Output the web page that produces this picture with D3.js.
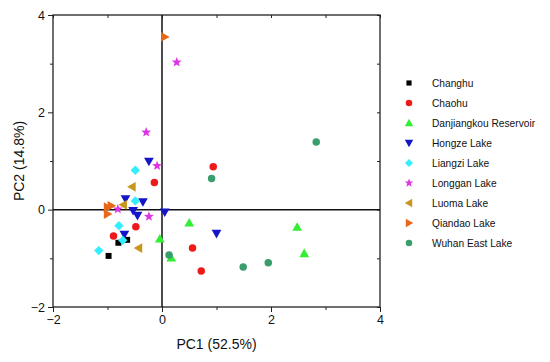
<!DOCTYPE html>
<html><head><meta charset="utf-8">
<script src="https://cdn.jsdelivr.net/npm/d3@7/dist/d3.min.js"></script>
<style>body{margin:0;background:#fff}svg{font-family:"Liberation Sans",Arial,sans-serif}</style>
</head><body><svg id="c" width="550" height="362"></svg>
<script>
const groups = ["Changhu","Chaohu","Danjiangkou Reservoir","Hongze Lake","Liangzi Lake","Longgan Lake","Luoma Lake","Qiandao Lake","Wuhan East Lake"];
const changhu = [[-0.64,-0.62],[-0.80,-0.68],[-0.98,-0.95]];
const chaohu = [[0.94,0.88],[-0.14,0.56],[-0.48,-0.35],[-0.89,-0.54],[0.56,-0.79],[0.72,-1.26]];
const danjiangkou = [[0.50,-0.27],[-0.04,-0.60],[0.17,-0.99],[2.48,-0.36],[2.61,-0.90]];
const hongze = [[-0.24,0.99],[-0.67,0.22],[-0.35,0.16],[-0.53,-0.02],[-0.45,-0.12],[0.05,-0.05],[1.00,-0.49],[-0.69,-0.51]];
const liangzi = [[-0.49,0.81],[-0.49,0.18],[-0.79,-0.33],[-0.72,-0.63],[-1.16,-0.84]];
const longgan = [[0.27,3.03],[-0.29,1.59],[-0.09,0.90],[-0.81,0.01],[-0.24,-0.14]];
const luoma = [[-0.55,0.47],[-0.71,0.10],[-0.43,-0.79]];
const qiandao = [[0.05,3.55],[-0.93,0.08],[-1.00,0.05],[-1.00,-0.09]];
const wuhan = [[0.91,0.64],[0.13,-0.93],[1.49,-1.18],[1.95,-1.09],[2.83,1.39]];
const seriesData = [changhu,chaohu,danjiangkou,hongze,liangzi,longgan,luoma,qiandao,wuhan];
const xTicks = [-2,0,2,4], yTicks = [-2,0,2,4];
const xMinor = [-1,1,3], yMinor = [-1,1,3];
const xLabel = "PC1 (52.5%)", yLabel = "PC2 (14.8%)";

const colors = ["#000000","#ee1a1a","#33ee33","#1414c8","#33eeff","#e033e6","#c8961e","#e8681a","#3a9e6c"];
const poly = pts => ({draw(ctx,size){const s=Math.sqrt(size);pts.forEach((p,i)=>i?ctx.lineTo(p[0]*s,p[1]*s):ctx.moveTo(p[0]*s,p[1]*s));ctx.closePath();}});
const tri = 0.62;
const shapes = [
  poly([[-0.45,-0.45],[0.45,-0.45],[0.45,0.45],[-0.45,0.45]]),
  {draw(ctx,size){const r=Math.sqrt(size)*0.5;ctx.moveTo(r,0);ctx.arc(0,0,r,0,2*Math.PI);}},
  poly([[0,-tri],[tri,tri*0.75],[-tri,tri*0.75]]),
  poly([[0,tri],[tri,-tri*0.75],[-tri,-tri*0.75]]),
  poly([[0,-0.6],[0.6,0],[0,0.6],[-0.6,0]]),
  {draw(ctx,size){const R=Math.sqrt(size)*0.62,r=R*0.42;for(let i=0;i<10;i++){const a=-Math.PI/2+i*Math.PI/5,rr=i%2?r:R;i?ctx.lineTo(rr*Math.cos(a),rr*Math.sin(a)):ctx.moveTo(rr*Math.cos(a),rr*Math.sin(a));}ctx.closePath();}},
  poly([[-tri,0],[tri*0.75,-tri],[tri*0.75,tri]]),
  poly([[tri,0],[-tri*0.75,-tri],[-tri*0.75,tri]]),
  {draw(ctx,size){const r=Math.sqrt(size)*0.5;ctx.moveTo(r,0);ctx.arc(0,0,r,0,2*Math.PI);}}
];
const sizes = [44,56,62,62,60,70,62,62,56];

const svg = d3.select("#c");
const L=53,R=380,T=15,B=307;
const x = d3.scaleLinear().domain([-2,4]).range([L,R]);
const y = d3.scaleLinear().domain([-2,4]).range([B,T]);

// frame
svg.append("rect").attr("x",L).attr("y",T).attr("width",R-L).attr("height",B-T).attr("fill","none").attr("stroke","#222").attr("stroke-width",1.3);
// zero lines
svg.append("line").attr("x1",x(0)).attr("x2",x(0)).attr("y1",T).attr("y2",B).attr("stroke","#111").attr("stroke-width",1.5);
svg.append("line").attr("x1",L).attr("x2",R).attr("y1",y(0)).attr("y2",y(0)).attr("stroke","#111").attr("stroke-width",1.5);

// axes
const gx = svg.append("g").attr("transform",`translate(0,${B})`).call(d3.axisBottom(x).tickValues(xTicks).tickSize(5).tickPadding(3).tickFormat(d3.format("")));
const gy = svg.append("g").attr("transform",`translate(${L},0)`).call(d3.axisLeft(y).tickValues(yTicks).tickSize(5).tickPadding(3).tickFormat(d3.format("")));
[gx,gy].forEach(g=>{g.select(".domain").remove();g.selectAll("text").attr("font-size",12.5).attr("fill","#111").attr("font-family","Liberation Sans, Arial, sans-serif");g.selectAll("line").attr("stroke","#222");});
const minorB = svg.append("g").attr("transform",`translate(0,${B})`).call(d3.axisBottom(x).tickValues(xMinor).tickSize(3).tickFormat(""));
const minorL = svg.append("g").attr("transform",`translate(${L},0)`).call(d3.axisLeft(y).tickValues(yMinor).tickSize(3).tickFormat(""));
const topAx = svg.append("g").attr("transform",`translate(0,${T})`).call(d3.axisBottom(x).tickValues(xMinor.concat(xTicks)).tickSize(3).tickFormat(""));
const rightAx = svg.append("g").attr("transform",`translate(${R},0)`).call(d3.axisLeft(y).tickValues(yMinor.concat(yTicks)).tickSize(3).tickFormat(""));
[minorB,minorL,topAx,rightAx].forEach(g=>{g.select(".domain").remove();g.selectAll("line").attr("stroke","#222");});

// labels
svg.append("text").attr("x",(L+R)/2).attr("y",349).attr("text-anchor","middle").attr("font-size",14).attr("fill","#111").text(xLabel);
svg.append("text").attr("transform",`translate(24,${(T+B)/2}) rotate(-90)`).attr("text-anchor","middle").attr("font-size",14).attr("fill","#111").text(yLabel);

// points
seriesData.forEach((data,i)=>{
  svg.append("g").selectAll("path").data(data).join("path")
    .attr("transform",d=>`translate(${x(d[0])},${y(d[1])})`)
    .attr("d",d3.symbol().type(shapes[i]).size(sizes[i]))
    .attr("fill",colors[i]);
});

// legend
const lg = svg.append("g");
groups.forEach((g,i)=>{
  const yy = 83 + i*20;
  lg.append("path").attr("transform",`translate(409,${yy})`).attr("d",d3.symbol().type(shapes[i]).size(sizes[i]*0.75)).attr("fill",colors[i]);
  lg.append("text").attr("x",432).attr("y",yy+4).attr("font-size",10.2).attr("fill","#111").text(g);
});
</script></body></html>
